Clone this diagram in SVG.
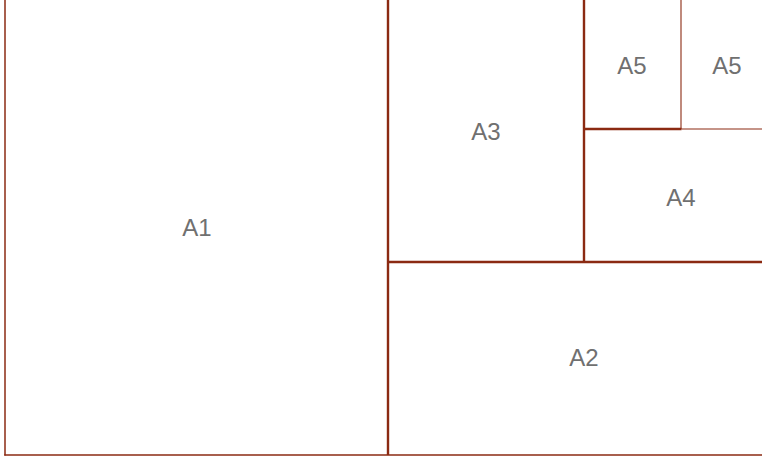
<svg xmlns="http://www.w3.org/2000/svg" width="762" height="461" viewBox="0 0 762 461">
<style>
.b{stroke:#8b2a12;fill:none;stroke-linecap:butt}
.t{stroke-width:2.4}
.n{stroke-width:1.5}
.f{stroke-width:1.1}
.l{font-family:"Liberation Sans",Arial,sans-serif;font-size:24px;fill:#707070;text-anchor:middle}
</style>
<rect width="762" height="461" fill="#ffffff"/>
<g id="borders">
<line class="b n" x1="5" y1="0" x2="5" y2="455.5"/>
<line class="b n" x1="4.25" y1="455" x2="762" y2="455"/>
<line class="b t" x1="388" y1="0" x2="388" y2="455"/>
<line class="b t" x1="388" y1="262" x2="762" y2="262"/>
<line class="b t" x1="584" y1="0" x2="584" y2="262"/>
<line class="b t" x1="584" y1="129" x2="681.5" y2="129"/>
<line class="b f" x1="681.5" y1="129" x2="762" y2="129"/>
<line class="b f" x1="681" y1="0" x2="681" y2="129"/>
</g>
<g id="A1"><text class="l" x="197" y="236">A1</text></g>
<g id="A2"><text class="l" x="584" y="366">A2</text></g>
<g id="A3"><text class="l" x="486" y="140">A3</text></g>
<g id="A4"><text class="l" x="681" y="206">A4</text></g>
<g id="A5a"><text class="l" x="632" y="74">A5</text></g>
<g id="A5b"><text class="l" x="727" y="74">A5</text></g>
</svg>
